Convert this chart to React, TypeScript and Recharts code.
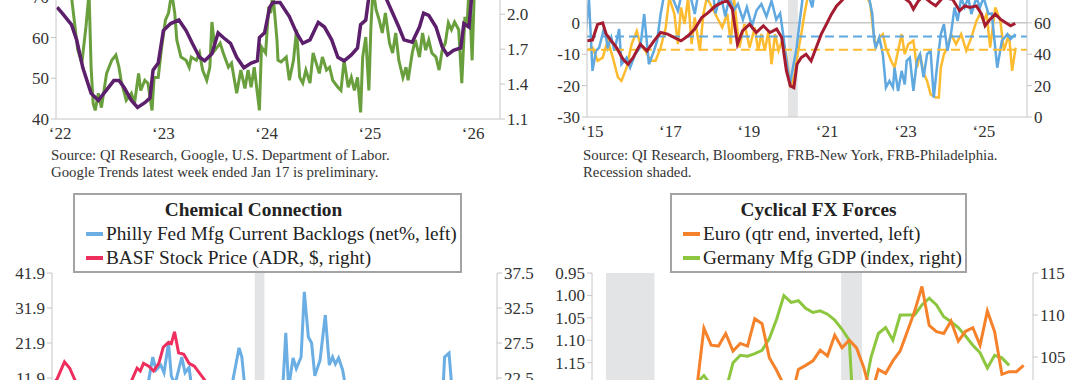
import React from "react";
import { LineChart, Line, XAxis, YAxis, ReferenceArea, ReferenceLine } from "recharts";

const SERIF = "'Liberation Serif', 'Times New Roman', serif";
const AXIS = "#c6c6c6";
const tick = { fill: "#333", fontSize: 17, fontFamily: SERIF };

// ---- top left: Google search trend (left) vs continuing claims (right), weekly
const searchTrend: [number, number][] = [
  [2021.96, 80], [2022.05, 76], [2022.11, 70], [2022.17, 57], [2022.21, 53.7], [2022.25, 62.6],
  [2022.28, 71], [2022.3, 52.7], [2022.32, 43.8], [2022.34, 42.1], [2022.37, 46.3], [2022.4, 42.8],
  [2022.45, 51.2], [2022.5, 54.4], [2022.54, 55.7], [2022.57, 52.7], [2022.59, 49.5], [2022.64, 44.6],
  [2022.69, 46.3], [2022.72, 43.8], [2022.76, 51.2], [2022.78, 47], [2022.82, 49.5], [2022.85, 48.8],
  [2022.89, 42.1], [2022.91, 50.2], [2022.95, 50.2], [2022.98, 56.9], [2023.02, 64.3], [2023.05, 66],
  [2023.08, 71], [2023.11, 66], [2023.13, 59.4], [2023.17, 55.2], [2023.22, 54.4], [2023.25, 52.7],
  [2023.27, 55.2], [2023.32, 54.4], [2023.35, 56.2], [2023.38, 52], [2023.42, 49.5], [2023.45, 52.7],
  [2023.47, 63.8], [2023.5, 56.9], [2023.55, 58.6], [2023.58, 56.2], [2023.63, 52.7], [2023.66, 53.7],
  [2023.71, 46.3], [2023.75, 52], [2023.79, 47.5], [2023.82, 52], [2023.85, 47.8], [2023.88, 52.7],
  [2023.93, 42.1], [2023.95, 57.7], [2023.99, 56.2], [2024.02, 67.5], [2024.04, 66], [2024.06, 71],
  [2024.1, 59.4], [2024.11, 54.4], [2024.14, 54], [2024.19, 55.2], [2024.22, 49.5], [2024.26, 54.4],
  [2024.29, 61.9], [2024.32, 50.2], [2024.35, 48.8], [2024.38, 52], [2024.42, 48.8], [2024.45, 56.2],
  [2024.48, 53.7], [2024.51, 51.2], [2024.54, 55.2], [2024.58, 52], [2024.61, 52.7], [2024.64, 49.5],
  [2024.69, 47.8], [2024.72, 47], [2024.75, 54.4], [2024.79, 47.8], [2024.82, 50.2], [2024.85, 47],
  [2024.88, 50.2], [2024.91, 41.6], [2024.93, 55.2], [2024.96, 60.1], [2024.99, 47], [2025.01, 62.6],
  [2025.03, 72], [2025.06, 66.8], [2025.09, 64.3], [2025.12, 61.1], [2025.15, 66], [2025.19, 58.6],
  [2025.22, 56.2], [2025.25, 61.1], [2025.28, 54.4], [2025.32, 50.2], [2025.35, 52.7], [2025.37, 49.5],
  [2025.41, 56.2], [2025.44, 59.4], [2025.48, 55.2], [2025.51, 61.1], [2025.54, 56.9], [2025.57, 59.4],
  [2025.6, 56.2], [2025.64, 55.2], [2025.67, 52], [2025.7, 56.9], [2025.73, 58.6], [2025.76, 63.6],
  [2025.79, 61.9], [2025.82, 63.8], [2025.86, 61.9], [2025.89, 48.8], [2025.92, 65.1], [2025.94, 62.6],
  [2025.96, 72], [2025.99, 54.4], [2026.02, 78],
];
const claims: [number, number][] = [
  [2021.97, 2.06], [2022.02, 2.01], [2022.11, 1.91], [2022.16, 1.78], [2022.22, 1.54], [2022.3, 1.32],
  [2022.37, 1.26], [2022.45, 1.35], [2022.52, 1.43], [2022.57, 1.43], [2022.62, 1.37], [2022.69, 1.26],
  [2022.75, 1.2], [2022.82, 1.24], [2022.87, 1.28], [2022.9, 1.52], [2022.95, 1.58], [2023.0, 1.86],
  [2023.07, 1.92], [2023.15, 1.95], [2023.22, 1.86], [2023.28, 1.75], [2023.35, 1.63], [2023.4, 1.6],
  [2023.47, 1.66], [2023.53, 1.84], [2023.58, 1.8], [2023.65, 1.75], [2023.71, 1.63], [2023.78, 1.54],
  [2023.85, 1.58], [2023.91, 1.6], [2023.93, 1.8], [2023.98, 1.84], [2024.03, 2.06], [2024.06, 2.1],
  [2024.13, 2.1], [2024.22, 1.98], [2024.29, 1.84], [2024.35, 1.75], [2024.42, 1.78], [2024.5, 1.93],
  [2024.56, 1.89], [2024.63, 1.78], [2024.69, 1.63], [2024.75, 1.6], [2024.82, 1.65], [2024.88, 1.71],
  [2024.91, 1.91], [2024.96, 1.95], [2024.99, 2.15], [2025.07, 2.25], [2025.15, 2.15], [2025.22, 2.01],
  [2025.28, 1.89], [2025.33, 1.78], [2025.41, 1.76], [2025.48, 1.89], [2025.52, 2.01], [2025.57, 1.99],
  [2025.64, 1.89], [2025.7, 1.72], [2025.75, 1.65], [2025.81, 1.69], [2025.88, 1.71], [2025.91, 1.92],
  [2025.96, 1.89], [2026.0, 2.3],
];

// ---- top right: regional fed surveys (left) and red series (right)
const nyFed: [number, number][] = [
  [2014.83, -3.6], [2014.92, 7.5], [2015.01, -15.3], [2015.1, -8.9], [2015.18, -7.9], [2015.31, -1.5],
  [2015.4, -7.9], [2015.49, -4.7], [2015.57, -8.9], [2015.69, -2], [2015.75, -13.2], [2015.88, -11.1],
  [2015.97, -14.3], [2016.1, -10], [2016.23, -7.9], [2016.33, 2.8], [2016.45, -13.2], [2016.58, -8.9],
  [2016.66, -5.7], [2016.75, 2.8], [2016.84, 9], [2016.95, 12], [2017.05, 8], [2017.19, 3.8],
  [2017.3, 10], [2017.4, 14], [2017.5, 9], [2017.62, 2.8], [2017.72, 10], [2017.85, 14], [2017.95, 8],
  [2018.06, 12], [2018.15, 3], [2018.28, 9], [2018.4, 2], [2018.5, 8], [2018.62, 4], [2018.72, 6],
  [2018.85, 1], [2018.95, 5], [2019.08, -1], [2019.2, 4], [2019.32, 6], [2019.45, 2], [2019.58, 7],
  [2019.7, 1], [2019.8, 3], [2019.88, -4], [2019.95, -11], [2020.05, -19.6], [2020.13, -14],
  [2020.22, -8], [2020.3, 0.6], [2020.37, 7.5], [2020.5, 10], [2020.62, 4.9], [2020.7, 12],
  [2020.85, 9], [2021.0, 15], [2021.15, 12], [2021.3, 18], [2021.45, 14], [2021.6, 16], [2021.75, 12],
  [2021.9, 14], [2022.05, 9], [2022.15, 3], [2022.2, -5.7], [2022.24, -7.9], [2022.33, -4.7],
  [2022.42, -10], [2022.5, -20.6], [2022.59, -18.5], [2022.68, -20.6], [2022.72, -14.3], [2022.81, -21.7],
  [2022.9, -15.3], [2022.98, -19.6], [2023.03, -12.1], [2023.11, -11.1], [2023.2, -21.7], [2023.29, -12.1],
  [2023.37, -10], [2023.46, -17.4], [2023.55, -10], [2023.64, -8.9], [2023.72, -23.8], [2023.81, -13.2],
  [2023.9, -3.6], [2023.98, -0.4], [2024.07, -8.9], [2024.16, -3.6], [2024.25, 4.9], [2024.33, 0.6],
  [2024.42, 8], [2024.51, 4.9], [2024.6, 8], [2024.68, 2.8], [2024.81, 8], [2024.9, 4.9], [2024.99, 8],
  [2025.12, 2.8], [2025.2, 3], [2025.34, -14.3], [2025.46, -5.7], [2025.6, -3.6], [2025.68, -5.2],
  [2025.81, -3.6],
];
const phillyFed: [number, number][] = [
  [2014.83, -8.9], [2015.01, -7.9], [2015.14, -12.1], [2015.27, -11.1], [2015.4, -5.7], [2015.53, -11.1],
  [2015.66, -17.4], [2015.75, -18.5], [2015.88, -14.3], [2016.01, -6.8], [2016.14, -2.6], [2016.23, -6.8],
  [2016.36, -8.9], [2016.49, -12.1], [2016.62, -12.1], [2016.75, -7.9], [2016.88, -1.5], [2016.97, 8],
  [2017.1, 2.8], [2017.19, -6.8], [2017.27, 4.9], [2017.36, -0.4], [2017.45, 8], [2017.54, -6.8],
  [2017.62, 1.7], [2017.75, -8.9], [2017.84, 2.8], [2017.93, 8], [2018.06, 4.9], [2018.19, 1.7],
  [2018.32, -1.5], [2018.45, 2.8], [2018.54, -6.8], [2018.62, 8], [2018.76, -7.9], [2018.89, -0.4],
  [2019.02, -7.9], [2019.15, -1.5], [2019.24, -8.9], [2019.32, -3.6], [2019.41, -8.9], [2019.5, -2.6],
  [2019.58, -13.2], [2019.67, -3.6], [2019.76, -8.9], [2019.85, -5.7], [2019.95, -10], [2020.07, -20.6],
  [2020.17, -16.4], [2020.26, -8.9], [2020.34, -3.6], [2020.42, 2.8], [2020.5, 8], [2020.6, 12],
  [2020.75, 9], [2020.9, 14], [2021.05, 11], [2021.2, 16], [2021.35, 13], [2021.5, 17], [2021.65, 12],
  [2021.8, 15], [2021.95, 10], [2022.1, 6], [2022.17, -2], [2022.24, -7.9], [2022.33, -4.7],
  [2022.42, -3.6], [2022.5, -7.9], [2022.63, -12.1], [2022.72, -14.3], [2022.81, -8.9], [2022.9, -3.6],
  [2022.98, -10], [2023.07, -6.8], [2023.2, -5.7], [2023.29, -14.3], [2023.37, -10], [2023.46, -16],
  [2023.55, -18.5], [2023.64, -22.8], [2023.77, -23.8], [2023.85, -23.8], [2023.9, -14.3], [2023.98, -10],
  [2024.07, -7.9], [2024.16, -3.6], [2024.29, -6.8], [2024.42, -3.6], [2024.55, -8.9], [2024.68, -4.7],
  [2024.81, 0.6], [2024.9, 2.8], [2024.99, 0.6], [2025.07, 2.8], [2025.16, -7.9], [2025.29, 4.9],
  [2025.42, 0.6], [2025.51, -8.9], [2025.64, -3.6], [2025.72, -15.3], [2025.81, -7.9],
];
const redIndex: [number, number][] = [
  [2014.83, 48.5], [2015.01, 49], [2015.14, 59], [2015.27, 60], [2015.36, 52.8], [2015.49, 48.5],
  [2015.62, 44.3], [2015.79, 36.8], [2015.92, 33.6], [2016.05, 37.9], [2016.23, 46.4], [2016.4, 42.1],
  [2016.58, 48.5], [2016.75, 53.8], [2016.93, 52.8], [2017.1, 50.6], [2017.27, 48.5], [2017.45, 51.7],
  [2017.62, 56], [2017.8, 63.4], [2017.97, 66.6], [2018.15, 70.8], [2018.32, 73], [2018.45, 74],
  [2018.58, 68.7], [2018.71, 46.4], [2018.84, 54.9], [2019.02, 59.1], [2019.19, 53.8], [2019.37, 58.1],
  [2019.54, 53.8], [2019.71, 56], [2019.84, 50.6], [2019.96, 29.4], [2020.06, 19.8], [2020.15, 18.7],
  [2020.23, 33.6], [2020.34, 37.9], [2020.46, 40], [2020.59, 35.7], [2020.72, 44.3], [2020.85, 52.8],
  [2020.98, 59.1], [2021.11, 65.5], [2021.24, 70.8], [2021.37, 74], [2021.5, 78], [2021.75, 81],
  [2022.0, 83], [2022.3, 80], [2022.6, 78], [2022.9, 77], [2023.11, 73], [2023.2, 68.7], [2023.33, 74],
  [2023.45, 77], [2023.64, 73], [2023.77, 70.8], [2023.95, 76], [2024.2, 75], [2024.38, 67.7],
  [2024.51, 70.8], [2024.64, 69.8], [2024.81, 70.8], [2024.94, 65.5], [2025.03, 58.1], [2025.16, 62.3],
  [2025.29, 65.5], [2025.42, 62.3], [2025.55, 60.2], [2025.68, 58.1], [2025.8, 59.6],
];
const nyAvg = -4.4;
const phillyAvg = -8.6;

// ---- bottom left: Chemical Connection
const backlogs: [number, number][] = [
  [2015.0, 2], [2015.2, -4], [2015.4, 3], [2015.6, -6], [2015.8, 0], [2016.0, -8], [2016.2, -3],
  [2016.4, 2], [2016.6, -5], [2016.8, 4], [2017.0, 6], [2017.2, 9], [2017.35, 11.3], [2017.45, 17.9],
  [2017.53, 14.2], [2017.65, 15.6], [2017.73, 13.4], [2017.84, 21.9], [2017.91, 12.5], [2018.0, 10],
  [2018.17, 17.9], [2018.25, 13.4], [2018.35, 14.9], [2018.43, 8], [2018.6, 3], [2018.8, 7],
  [2019.0, 2], [2019.2, 5], [2019.4, 9], [2019.59, 20.5], [2019.66, 17.9], [2019.77, 5], [2019.95, -2],
  [2020.2, -15], [2020.4, -10], [2020.55, 3], [2020.67, 8], [2020.75, 24.8], [2020.82, 9],
  [2020.93, 17.6], [2021.01, 14.6], [2021.13, 17.9], [2021.21, 36.5], [2021.31, 23.6], [2021.39, 21.9],
  [2021.47, 12.5], [2021.6, 17], [2021.73, 29.9], [2021.83, 15.6], [2021.91, 17.9], [2021.98, 15.9],
  [2022.06, 17.6], [2022.16, 14.2], [2022.24, 9], [2022.4, 2], [2022.6, -6], [2022.9, -12],
  [2023.2, -18], [2023.5, -10], [2023.8, -14], [2024.1, -6], [2024.4, -2], [2024.63, 4],
  [2024.69, 17.9], [2024.8, 19], [2024.9, 5], [2025.1, -5], [2025.4, -10], [2025.7, 2], [2025.9, -3],
];
const basf: [number, number][] = [
  [2015.0, 21.8], [2015.08, 22.4], [2015.26, 24.8], [2015.39, 23.9], [2015.52, 22.2], [2015.65, 20.5],
  [2015.85, 18.5], [2016.1, 16.2], [2016.3, 17.8], [2016.55, 18.6], [2016.8, 20.5], [2016.93, 22.2],
  [2017.06, 23.9], [2017.14, 23.5], [2017.22, 24.6], [2017.35, 24.2], [2017.47, 23.5], [2017.6, 24.6],
  [2017.71, 26.9], [2017.84, 27.6], [2017.91, 27.4], [2017.99, 29.1], [2018.09, 26.1], [2018.22, 25.9],
  [2018.35, 24.6], [2018.48, 24.2], [2018.61, 23.2], [2018.74, 22.2], [2018.9, 19], [2019.1, 18.2],
  [2019.4, 19.5], [2019.7, 17.5], [2019.95, 19], [2020.2, 12.5], [2020.5, 14.5], [2020.9, 17.5],
  [2021.2, 20.5], [2021.5, 19.8], [2021.9, 17.5], [2022.3, 13.5], [2022.7, 10.5], [2023.0, 13],
  [2023.4, 13.5], [2023.8, 11.5], [2024.2, 13], [2024.6, 12], [2025.0, 11.5], [2025.4, 12.5],
  [2025.8, 12.8],
];

// ---- bottom right: Cyclical FX Forces, quarterly from 2011Q1
const fxStart = 2011;
const euroQtrEnd = [
  1.42, 1.45, 1.35, 1.3, 1.33, 1.27, 1.29, 1.32, 1.28, 1.3, 1.35, 1.38, 1.38, 1.37, 1.26, 1.21,
  1.073, 1.111, 1.113, 1.085, 1.124, 1.107, 1.113, 1.052, 1.063, 1.139, 1.167, 1.2,
  1.232, 1.165, 1.156, 1.146, 1.122, 1.135, 1.089, 1.117, 1.1, 1.117, 1.161, 1.222,
  1.165, 1.174, 1.146, 1.124, 1.08, 1.035, 0.98, 1.067, 1.081, 1.085, 1.057, 1.102,
  1.08, 1.072, 1.111, 1.035, 1.081, 1.176, 1.17, 1.17, 1.156,
];
const germanyMfg = [
  99.5, 100.2, 100.5, 99.8, 99.6, 99.2, 99.4, 98.6, 98.8, 99.5, 99.9, 100.4, 100.9, 100.5, 100.8, 101.9,
  102.8, 101.6, 101.2, 101.0, 104.3, 105.2, 105.1, 105.4, 105.8, 107.2, 109.5, 112.3,
  111.5, 111.7, 110.8, 110.3, 110.5, 110.1, 109.4, 108.3, 107.0, 92.0, 100.5, 105.0,
  107.8, 108.5, 107.0, 110.0, 110.0, 110.0, 111.2, 112.0, 111.2, 109.8, 109.2, 108.5,
  107.5, 106.4, 105.5, 103.7, 105.2, 104.9, 104.0,
];

const pts = (a: [number, number][]) => a.map(([t, v]) => ({ t, v }));
const qpts = (a: number[]) => a.map((v, i) => ({ t: fxStart + i / 4, v }));
const yr = (v: number) => `\u2018${String(v).slice(2)}`;

function LegendBox({ left, top, width, title, titleShift = 0, items }: any) {
  return (
    <div
      style={{
        position: "absolute", left, top, width, height: 80, boxSizing: "border-box",
        border: "2px solid #a3a3a3", background: "#fff", fontFamily: SERIF, fontSize: 19.3,
        color: "#222", lineHeight: "24px", padding: "3px 0 0 11px", zIndex: 2,
      }}
    >
      <div style={{ fontWeight: "bold", textAlign: "center", paddingRight: 11 + titleShift }}>{title}</div>
      {items.map((it: any) => (
        <div key={it.label} style={{ display: "flex", alignItems: "center", whiteSpace: "nowrap" }}>
          <span style={{ width: 17, height: 4, background: it.color, marginRight: 3, display: "inline-block" }} />
          {it.label}
        </div>
      ))}
    </div>
  );
}

const note = { position: "absolute" as const, fontFamily: SERIF, fontSize: 14.8, lineHeight: "16.5px", color: "#333", whiteSpace: "nowrap" as const };

export default function App() {
  const axisProps = { stroke: AXIS, tick, tickSize: 5, interval: 0 as const };
  return (
    <div style={{ position: "fixed", left: 0, top: 0, width: 1080, height: 380, overflow: "hidden", background: "#fff" }}>
      {/* top left */}
      <div style={{ position: "absolute", left: 0, top: -60 }}>
        <LineChart width={540} height={209} margin={{ top: 16, right: 0, bottom: 0, left: 0 }}>
          <XAxis type="number" dataKey="t" domain={[2021.96, 2026.26]} ticks={[2022, 2023, 2024, 2025, 2026]}
            tickFormatter={yr} allowDataOverflow height={30} stroke={AXIS} tick={tick} tickLine={false} interval={0} />
          <YAxis yAxisId="l" domain={[40, 80]} ticks={[40, 50, 60, 70, 80]} width={56} allowDataOverflow {...axisProps} />
          <YAxis yAxisId="r" orientation="right" domain={[1.1, 2.5]} ticks={[1.1, 1.4, 1.7, 2.0, 2.3]}
            tickFormatter={(v: number) => v.toFixed(1)} width={40} allowDataOverflow {...axisProps} />
          <Line yAxisId="l" data={pts(searchTrend)} dataKey="v" stroke="#6a9f3d" strokeWidth={3} dot={false} isAnimationActive={false} />
          <Line yAxisId="r" data={pts(claims)} dataKey="v" stroke="#5c1f6b" strokeWidth={3.5} dot={false} isAnimationActive={false} />
        </LineChart>
      </div>
      <div style={{ ...note, left: 51, top: 147 }}>
        Source: QI Research, Google, U.S. Department of Labor.<br />
        Google Trends latest week ended Jan 17 is preliminary.
      </div>

      {/* top right */}
      <div style={{ position: "absolute", left: 540, top: -50 }}>
        <LineChart width={540} height={197} margin={{ top: 10, right: 0, bottom: 0, left: 0 }}>
          <XAxis type="number" dataKey="t" domain={[2014.87, 2026.1]} ticks={[2015, 2017, 2019, 2021, 2023, 2025]}
            tickFormatter={yr} allowDataOverflow height={30} stroke={AXIS} tick={tick} tickLine={false} interval={0} />
          <YAxis yAxisId="l" domain={[-30, 20]} ticks={[-30, -20, -10, 0, 10, 20]} width={47} allowDataOverflow {...axisProps} />
          <YAxis yAxisId="r" orientation="right" domain={[0, 100]} ticks={[0, 20, 40, 60, 80, 100]} width={53} allowDataOverflow {...axisProps} />
          <ReferenceArea yAxisId="l" x1={2020.0} x2={2020.25} fill="#e2e4e6" fillOpacity={1} stroke="none" />
          <ReferenceLine yAxisId="l" y={0} stroke={AXIS} strokeWidth={1.5} />
          <Line yAxisId="l" data={pts(phillyFed)} dataKey="v" stroke="#fdbb30" strokeWidth={2.5} dot={false} isAnimationActive={false} />
          <Line yAxisId="l" data={pts(nyFed)} dataKey="v" stroke="#5fa8e0" strokeWidth={2.5} dot={false} isAnimationActive={false} />
          <ReferenceLine yAxisId="l" y={nyAvg} stroke="#5fa8e0" strokeWidth={2} strokeDasharray="9 5" />
          <ReferenceLine yAxisId="l" y={phillyAvg} stroke="#fdbb30" strokeWidth={2} strokeDasharray="9 5" />
          <Line yAxisId="r" data={pts(redIndex)} dataKey="v" stroke="#a51c30" strokeWidth={3} dot={false} isAnimationActive={false} />
        </LineChart>
      </div>
      <div style={{ ...note, left: 583, top: 147 }}>
        Source: QI Research, Bloomberg, FRB-New York, FRB-Philadelphia.<br />
        Recession shaded.
      </div>

      {/* bottom left */}
      <div style={{ position: "absolute", left: 0, top: 250 }}>
        <LineChart width={540} height={233} margin={{ top: 23, right: 0, bottom: 0, left: 0 }}>
          <XAxis type="number" dataKey="t" domain={[2014.95, 2025.99]} hide allowDataOverflow />
          <YAxis yAxisId="l" domain={[-18.1, 41.9]} ticks={[41.9, 31.9, 21.9, 11.9, 1.9, -8.1, -18.1]}
            tickFormatter={(v: number) => v.toFixed(1)} width={52} allowDataOverflow {...axisProps} />
          <YAxis yAxisId="r" orientation="right" domain={[7.5, 37.5]} ticks={[37.5, 32.5, 27.5, 22.5, 17.5, 12.5, 7.5]}
            tickFormatter={(v: number) => v.toFixed(1)} width={43} allowDataOverflow {...axisProps} />
          <ReferenceArea yAxisId="l" x1={2019.98} x2={2020.22} fill="#e2e4e6" fillOpacity={1} stroke="none" />
          <Line yAxisId="l" data={pts(backlogs)} dataKey="v" stroke="#6aaee4" strokeWidth={3} dot={false} isAnimationActive={false} />
          <Line yAxisId="r" data={pts(basf)} dataKey="v" stroke="#ee2f5d" strokeWidth={3} dot={false} isAnimationActive={false} />
        </LineChart>
      </div>
      <LegendBox left={73} top={193} width={389} title="Chemical Connection" titleShift={28}
        items={[
          { label: "Philly Fed Mfg Current Backlogs (net%, left)", color: "#6aaee4" },
          { label: "BASF Stock Price (ADR, $, right)", color: "#ee2f5d" },
        ]} />

      {/* bottom right */}
      <div style={{ position: "absolute", left: 540, top: 250 }}>
        <LineChart width={540} height={253} margin={{ top: 23, right: 0, bottom: 0, left: 0 }}>
          <XAxis type="number" dataKey="t" domain={[2011.15, 2026.32]} hide allowDataOverflow />
          <YAxis yAxisId="l" reversed domain={[0.95, 1.463]} ticks={[0.95, 1.0, 1.05, 1.1, 1.15, 1.2, 1.25, 1.3]}
            tickFormatter={(v: number) => v.toFixed(2)} width={52} allowDataOverflow {...axisProps} />
          <YAxis yAxisId="r" orientation="right" domain={[87.62, 115]} ticks={[90, 95, 100, 105, 110, 115]}
            width={47} allowDataOverflow {...axisProps} />
          <ReferenceArea yAxisId="l" x1={2011.63} x2={2013.3} fill="#e2e4e6" fillOpacity={1} stroke="none" />
          <ReferenceArea yAxisId="l" x1={2019.72} x2={2020.44} fill="#e2e4e6" fillOpacity={1} stroke="none" />
          <Line yAxisId="r" data={qpts(germanyMfg)} dataKey="v" stroke="#8dc63f" strokeWidth={3} dot={false} isAnimationActive={false} />
          <Line yAxisId="l" data={qpts(euroQtrEnd)} dataKey="v" stroke="#f5822a" strokeWidth={3} dot={false} isAnimationActive={false} />
        </LineChart>
      </div>
      <LegendBox left={670} top={193} width={297} title="Cyclical FX Forces"
        items={[
          { label: "Euro (qtr end, inverted, left)", color: "#f5822a" },
          { label: "Germany Mfg GDP (index, right)", color: "#8dc63f" },
        ]} />
    </div>
  );
}
